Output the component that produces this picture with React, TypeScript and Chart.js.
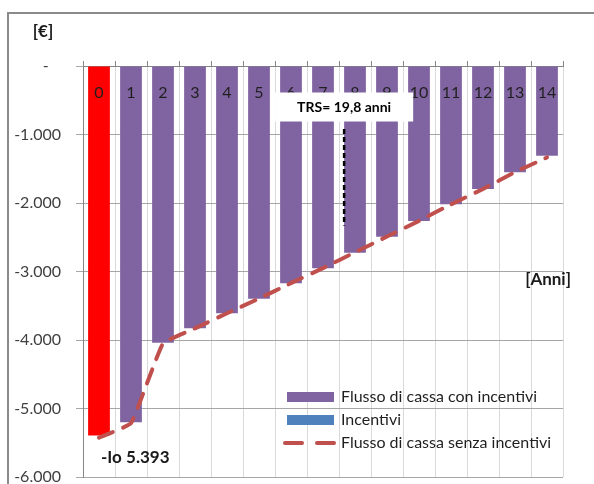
import React, { useEffect, useRef } from 'react';
import { Chart, registerables } from 'chart.js';

Chart.register(...registerables);

// ---- data ----
const years = ['0', '1', '2', '3', '4', '5', '6', '7', '8', '9', '10', '11', '12', '13', '14'];
const cashFlowWithIncentives = [-5393, -5200, -4040, -3830, -3610, -3397, -3173, -2954, -2725, -2492, -2263, -2019, -1796, -1552, -1309];
const incentives = [0, 0, 0, 0, 0, 0, 0, 0, 0, 0, 0, 0, 0, 0, 0];
const cashFlowWithoutIncentives = [-5425, -5215, -4050, -3830, -3610, -3395, -3170, -2950, -2720, -2490, -2260, -2020, -1795, -1550, -1335];
const yTickValues = [0, -1000, -2000, -3000, -4000, -5000, -6000];
const yTickLabels = ['-   ', '-1.000', '-2.000', '-3.000', '-4.000', '-5.000', '-6.000'];
const seriesNames = ['Flusso di cassa con incentivi', 'Incentivi', 'Flusso di cassa senza incentivi'];
const yUnitLabel = '[€]';
const xUnitLabel = '[Anni]';
const investmentLabel = '-Io 5.393';
const trsLabel = 'TRS= 19,8 anni';
const trsYearPosition = 7.66;
const trsValueRange = [-920, -2330];
const xUnitLabelValue = -3120;

const PURPLE = '#8064a2';
const RED_BAR = '#ff0000';
const BLUE = '#4f81bd';
const LINE_RED = '#c0504d';
const FONT = 'Lato, "Open Sans", sans-serif';
const LINE_DASH = [15, 11];

const overlayPlugin = {
  id: 'overlay',
  afterDraw(chart: any) {
    const { ctx, chartArea } = chart;
    const xs = chart.scales.x;
    const ys = chart.scales.y;
    ctx.save();

    // small upward tick marks on the top axis
    ctx.strokeStyle = '#868686';
    ctx.lineWidth = 1;
    for (let i = 0; i <= years.length; i++) {
      const px = Math.round(xs.getPixelForValue(i - 0.5)) + 0.5;
      ctx.beginPath();
      ctx.moveTo(px, chartArea.top - 5);
      ctx.lineTo(px, chartArea.top);
      ctx.stroke();
    }

    // TRS dashed marker
    const tx = xs.getPixelForValue(trsYearPosition);
    ctx.strokeStyle = '#000000';
    ctx.lineWidth = 2.5;
    ctx.setLineDash([5, 3]);
    ctx.beginPath();
    ctx.moveTo(tx, ys.getPixelForValue(trsValueRange[0]));
    ctx.lineTo(tx, ys.getPixelForValue(trsValueRange[1]));
    ctx.stroke();
    ctx.setLineDash([]);

    // TRS label box
    ctx.font = `bold 14px ${FONT}`;
    const tw = ctx.measureText(trsLabel).width;
    const bw = tw + 44;
    const bh = 29;
    const bcy = chartArea.top + 41;
    ctx.fillStyle = '#ffffff';
    ctx.fillRect(tx - bw / 2, bcy - bh / 2, bw, bh);
    ctx.fillStyle = '#000000';
    ctx.textAlign = 'center';
    ctx.textBaseline = 'middle';
    ctx.fillText(trsLabel, tx, bcy);

    // unit labels
    ctx.font = `bold 17px ${FONT}`;
    ctx.fillStyle = '#1a1a1a';
    ctx.textAlign = 'center';
    ctx.fillText(yUnitLabel, chartArea.left - 40, chartArea.top - 34);
    ctx.textAlign = 'right';
    ctx.fillText(xUnitLabel, chartArea.right + 8, ys.getPixelForValue(xUnitLabelValue));

    // initial investment label
    ctx.textAlign = 'left';
    ctx.fillText(investmentLabel, xs.getPixelForValue(0) + 2, ys.getPixelForValue(cashFlowWithIncentives[0]) + 22);

    // legend
    const lx = chartArea.left + 204;
    const sw = 47;
    const rowY = [chartArea.top + 331, chartArea.top + 354, chartArea.top + 377];
    ctx.font = `16px ${FONT}`;
    ctx.textBaseline = 'middle';
    ctx.textAlign = 'left';
    ctx.fillStyle = PURPLE;
    ctx.fillRect(lx, rowY[0] - 5, sw, 10);
    ctx.fillStyle = BLUE;
    ctx.fillRect(lx, rowY[1] - 5, sw, 10);
    ctx.strokeStyle = LINE_RED;
    ctx.lineWidth = 4;
    ctx.lineCap = 'round';
    ctx.setLineDash([17, 15]);
    ctx.beginPath();
    ctx.moveTo(lx - 2, rowY[2]);
    ctx.lineTo(lx + sw, rowY[2]);
    ctx.stroke();
    ctx.setLineDash([]);
    ctx.fillStyle = '#1f1f1f';
    seriesNames.forEach((name, i) => {
      ctx.fillText(name, lx + sw + 7, rowY[i]);
    });

    ctx.restore();
  },
};

export default function App() {
  const canvasRef = useRef<HTMLCanvasElement | null>(null);

  useEffect(() => {
    const canvas = canvasRef.current;
    if (!canvas) return;
    const chart = new Chart(canvas, {
      type: 'bar',
      data: {
        labels: years,
        datasets: [
          {
            type: 'line',
            label: seriesNames[2],
            data: cashFlowWithoutIncentives,
            borderColor: LINE_RED,
            borderWidth: 4,
            borderDash: LINE_DASH,
            borderCapStyle: 'round',
            pointRadius: 0,
            tension: 0.1,
            fill: false,
            order: 0,
          } as any,
          {
            type: 'bar',
            label: seriesNames[0],
            data: cashFlowWithIncentives,
            backgroundColor: years.map((_, i) => (i === 0 ? RED_BAR : PURPLE)),
            borderWidth: 0,
            categoryPercentage: 1,
            barPercentage: 0.68,
            order: 1,
          },
          {
            type: 'bar',
            label: seriesNames[1],
            data: incentives,
            backgroundColor: BLUE,
            borderWidth: 0,
            categoryPercentage: 1,
            barPercentage: 0.68,
            order: 2,
          },
        ],
      },
      options: {
        responsive: false,
        animation: false,
        devicePixelRatio: 1,
        layout: { padding: { top: 66, right: 31, bottom: 7, left: 0 } },
        plugins: {
          legend: { display: false },
          tooltip: { enabled: false },
          title: { display: false },
        },
        scales: {
          x: {
            type: 'category',
            stacked: true,
            position: { y: 0 } as any,
            offset: true,
            grid: { color: '#d9d9d9', drawTicks: false, offset: true, lineWidth: 1 },
            border: { display: true, color: '#868686', width: 1 },
            ticks: {
              z: 1,
              padding: 17,
              color: '#1f1f1f',
              font: { family: FONT, size: 16 },
              maxRotation: 0,
              autoSkip: false,
            },
            afterFit: (s: any) => { s.paddingLeft = 0; s.paddingRight = 0; },
          } as any,
          y: {
            stacked: true,
            min: -6000,
            max: 0,
            position: 'left',
            grid: { color: '#a6a6a6', tickLength: 7, lineWidth: 1 },
            border: { color: '#868686', width: 1 },
            ticks: {
              stepSize: 1000,
              padding: 15,
              color: '#404040',
              font: { family: FONT, size: 16 },
              callback: (v: any) => {
                const idx = yTickValues.indexOf(Number(v));
                return idx >= 0 ? yTickLabels[idx] : '';
              },
            },
            afterFit: (s: any) => {
              s.width = 83;
              s.paddingTop = 0;
              s.paddingBottom = 0;
            },
          },
        },
      },
      plugins: [overlayPlugin],
    });
    return () => chart.destroy();
  }, []);

  return (
    <div style={{ position: 'fixed', left: 0, top: 0, width: 594, height: 484, overflow: 'hidden', background: '#ffffff' }}>
      <div style={{ position: 'absolute', left: 7, top: 12, width: 800, height: 800, border: '2px solid #8a8a8a' }} />
      <canvas ref={canvasRef} width={594} height={484} style={{ position: 'absolute', left: 0, top: 0, width: 594, height: 484 }} />
    </div>
  );
}
